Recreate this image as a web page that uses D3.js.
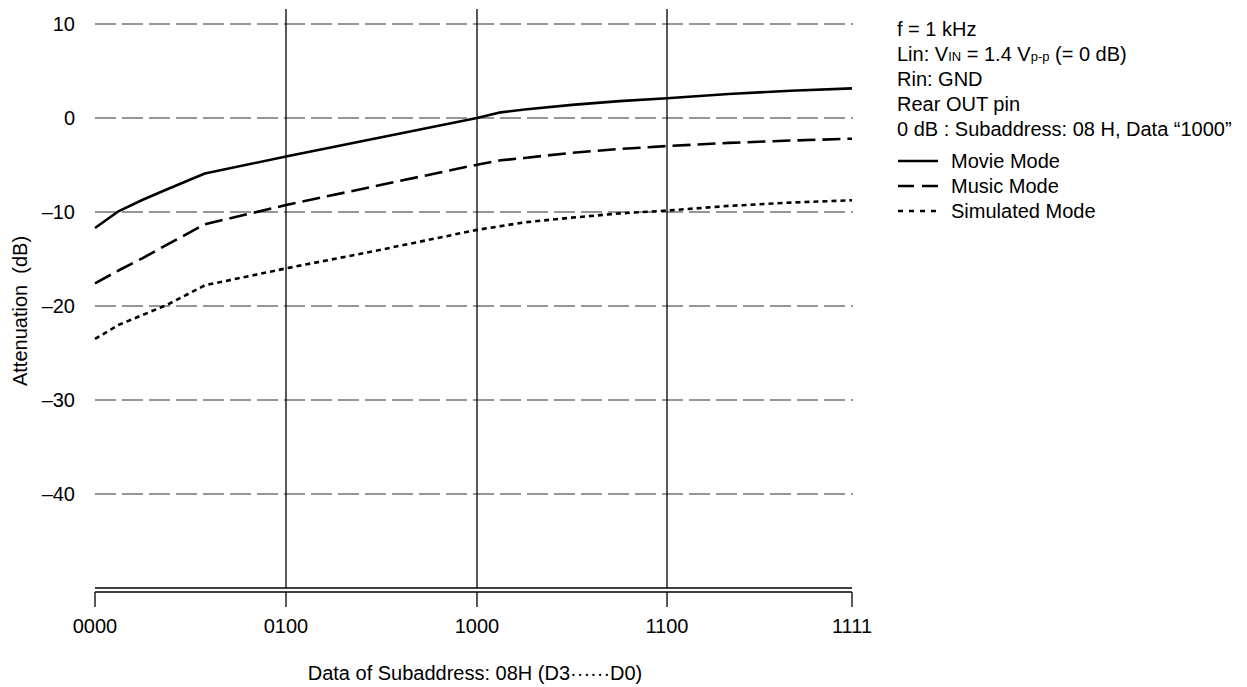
<!DOCTYPE html>
<html>
<head>
<meta charset="utf-8">
<script src="https://cdn.jsdelivr.net/npm/d3@7"></script>
<style>
  html, body { margin: 0; padding: 0; background: #fff; }
  svg { display: block; font-family: "Liberation Sans", Arial, sans-serif; }
</style>
</head>
<body>
<svg id="chart" width="1247" height="687"></svg>
<script>
// ---- data ----
const codes     = [0, 0.5, 1, 1.5, 2.3, 4, 6, 8, 8.5, 9, 10, 11, 12, 13, 14, 15];
const movie     = [-11.7, -9.9, -8.7, -7.6, -5.9, -4.1, -2.05, 0, 0.6, 0.9, 1.4, 1.8, 2.1, 2.55, 2.9, 3.15];
const music     = [-17.6, -16.2, -14.9, -13.5, -11.3, -9.26, -7.1, -4.97, -4.5, -4.25, -3.7, -3.3, -2.98, -2.65, -2.4, -2.2];
const simulated = [-23.5, -22.0, -20.95, -19.9, -17.8, -16.0, -14.0, -11.9, -11.5, -11.1, -10.6, -10.15, -9.85, -9.35, -9.0, -8.75];

const seriesNames = ["Movie Mode", "Music Mode", "Simulated Mode"];
const xTickCodes  = [0, 4, 8, 12, 15];
const xTickLabels = ["0000", "0100", "1000", "1100", "1111"];
const yTicks      = [10, 0, -10, -20, -30, -40];
const vLineCodes  = [4, 8, 12];
const noteLines   = ["f = 1 kHz", "LIN", "Rin: GND", "Rear OUT pin", "0 dB : Subaddress: 08 H, Data \u201c1000\u201d"];

// ---- layout ----
const svg = d3.select("#chart");
const FONT = 20;
const x = d3.scaleLinear().domain(xTickCodes).range([95, 286, 477, 667, 852]);
const y = d3.scaleLinear().domain([-50, 10]).range([588, 24]);

// horizontal dashed grid
svg.append("g").selectAll("line").data(yTicks).join("line")
  .attr("x1", x(0)).attr("x2", x(15) + 1)
  .attr("y1", d => y(d)).attr("y2", d => y(d))
  .attr("stroke", "#747474").attr("stroke-width", 1.5)
  .attr("stroke-dasharray", "21,6");

// y tick labels
svg.append("g").selectAll("text").data(yTicks).join("text")
  .attr("x", 75).attr("y", d => y(d) + 7)
  .attr("text-anchor", "end").attr("font-size", FONT).attr("fill", "#000")
  .text(d => d < 0 ? "\u2013" + Math.abs(d) : String(d));

// vertical solid lines
svg.append("g").selectAll("line").data(vLineCodes).join("line")
  .attr("x1", d => x(d)).attr("x2", d => x(d))
  .attr("y1", y(11.6)).attr("y2", y(-50))
  .attr("stroke", "#000").attr("stroke-width", 1.3);

// bottom double line
const yb = y(-50);
[0, 4].forEach(off => {
  svg.append("line")
    .attr("x1", x(0)).attr("x2", x(15))
    .attr("y1", yb + off).attr("y2", yb + off)
    .attr("stroke", "#000").attr("stroke-width", 1.4);
});

// x ticks
svg.append("g").selectAll("line").data(xTickCodes).join("line")
  .attr("x1", d => x(d)).attr("x2", d => x(d))
  .attr("y1", yb + 4).attr("y2", yb + 19)
  .attr("stroke", "#000").attr("stroke-width", 1.3);

svg.append("g").selectAll("text").data(xTickCodes).join("text")
  .attr("x", d => x(d)).attr("y", 633)
  .attr("text-anchor", "middle").attr("font-size", FONT)
  .text((d, i) => xTickLabels[i]);

// axis titles
svg.append("text")
  .attr("x", 475).attr("y", 680)
  .attr("text-anchor", "middle").attr("font-size", FONT)
  .text("Data of Subaddress: 08H (D3\u00b7\u00b7\u00b7\u00b7\u00b7\u00b7D0)");

svg.append("text")
  .attr("transform", "translate(27,311) rotate(-90)")
  .attr("text-anchor", "middle").attr("font-size", FONT)
  .style("white-space", "pre")
  .text("Attenuation  (dB)");

// series
const styles = [
  { dash: null,   w: 2.6 },
  { dash: "18,7", w: 2.6 },
  { dash: "5,4",  w: 2.6 }
];
const allSeries = [movie, music, simulated];
const line = d3.line().x(d => x(d[0])).y(d => y(d[1]));
allSeries.forEach((vals, i) => {
  svg.append("path")
    .datum(codes.map((c, j) => [c, vals[j]]))
    .attr("d", line)
    .attr("fill", "none").attr("stroke", "#000")
    .attr("stroke-width", styles[i].w)
    .attr("stroke-dasharray", styles[i].dash)
    .attr("stroke-linejoin", "round");
});

// notes
const noteX = 897;
const noteBase = [36, 61, 86, 111, 136];
noteLines.forEach((t, i) => {
  const tx = svg.append("text").attr("x", noteX).attr("y", noteBase[i]).attr("font-size", FONT);
  if (t === "LIN") {
    tx.append("tspan").text("Lin: V");
    tx.append("tspan").attr("font-size", 13).text("IN");
    tx.append("tspan").text(" = 1.4 V");
    tx.append("tspan").attr("font-size", 13).text("p-p");
    tx.append("tspan").text(" (= 0 dB)");
  } else {
    tx.text(t);
  }
});

// legend
const legBase = [168, 193, 218];
const legDash = [null, "16,8", "5,6"];
seriesNames.forEach((name, i) => {
  svg.append("line")
    .attr("x1", 898).attr("x2", 938)
    .attr("y1", legBase[i] - 7).attr("y2", legBase[i] - 7)
    .attr("stroke", "#000").attr("stroke-width", 2.4)
    .attr("stroke-dasharray", legDash[i]);
  svg.append("text").attr("x", 951).attr("y", legBase[i])
    .attr("font-size", FONT).text(name);
});
</script>
</body>
</html>
